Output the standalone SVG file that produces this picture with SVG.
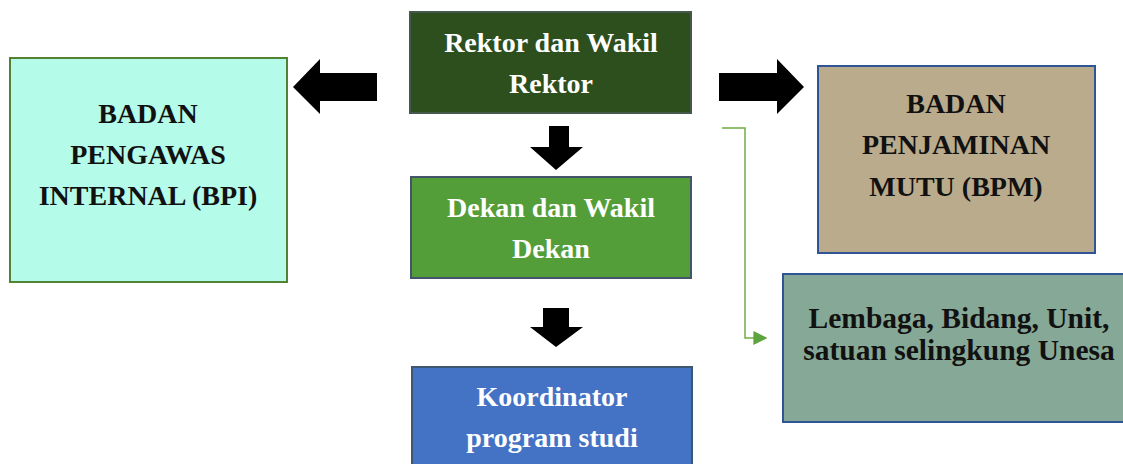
<svg xmlns="http://www.w3.org/2000/svg" width="1123" height="464" viewBox="0 0 1123 464">
<style>
.t{font-family:"Liberation Serif","Times New Roman",serif;font-weight:bold;font-size:28px;text-anchor:middle}
.w{fill:#ffffff}
.k{fill:#111111}
.arr{fill:#000000}
</style>
<defs>
<marker id="gh" viewBox="0 0 10 10" refX="9" refY="5" markerWidth="16" markerHeight="14" markerUnits="userSpaceOnUse" orient="auto">
<path d="M0,0 L10,5 L0,10 Z" fill="#5ea43c"/>
</marker>
</defs>
<rect width="1123" height="464" fill="#ffffff"/>
<g id="connectors">
<polygon class="arr" points="377,73 320,73 320,59 293,87 320,114 320,101 377,101"/>
<polygon class="arr" points="719,73 777,73 777,59 804,87 777,114 777,101 719,101"/>
<polygon class="arr" points="549,126 569,126 569,147 583,147 556,170 530,147 549,147"/>
<polygon class="arr" points="543,308 569,308 569,327 583,327 556,347 530,327 543,327"/>
<polyline points="722,128 745,128 745,338 766,338" fill="none" stroke="#70ad47" stroke-width="1.5" marker-end="url(#gh)"/>
</g>
<g id="rektor">
<rect x="410" y="12" width="281" height="101" fill="#2d4f1e" stroke="#44584c" stroke-width="2"/>
<text class="t w" x="551" y="52">Rektor dan Wakil</text>
<text class="t w" x="551" y="93">Rektor</text>
</g>
<g id="bpi">
<rect x="10" y="58" width="277" height="224" fill="#b4fbea" stroke="#548235" stroke-width="2"/>
<text class="t k" x="148" y="123">BADAN</text>
<text class="t k" x="148" y="164">PENGAWAS</text>
<text class="t k" x="148" y="205">INTERNAL (BPI)</text>
</g>
<g id="bpm">
<rect x="818" y="66" width="277" height="187" fill="#b9ab8b" stroke="#2f5597" stroke-width="2"/>
<text class="t k" x="956" y="113">BADAN</text>
<text class="t k" x="956" y="154">PENJAMINAN</text>
<text class="t k" x="956" y="196">MUTU (BPM)</text>
</g>
<g id="dekan">
<rect x="411" y="177" width="280" height="101" fill="#549e3a" stroke="#44546a" stroke-width="2"/>
<text class="t w" x="551" y="217">Dekan dan Wakil</text>
<text class="t w" x="551" y="258">Dekan</text>
</g>
<g id="koordinator">
<rect x="412" y="367" width="280" height="110" fill="#4472c4" stroke="#3f5670" stroke-width="2"/>
<text class="t w" x="552" y="406">Koordinator</text>
<text class="t w" x="552" y="447">program studi</text>
</g>
<g id="lembaga">
<rect x="783" y="274" width="350" height="148" fill="#86a896" stroke="#2f5597" stroke-width="2"/>
<text class="t k" x="959" y="328" style="font-size:29.5px">Lembaga, Bidang, Unit,</text>
<text class="t k" x="959" y="360" style="font-size:29.5px">satuan selingkung Unesa</text>
</g>
</svg>
